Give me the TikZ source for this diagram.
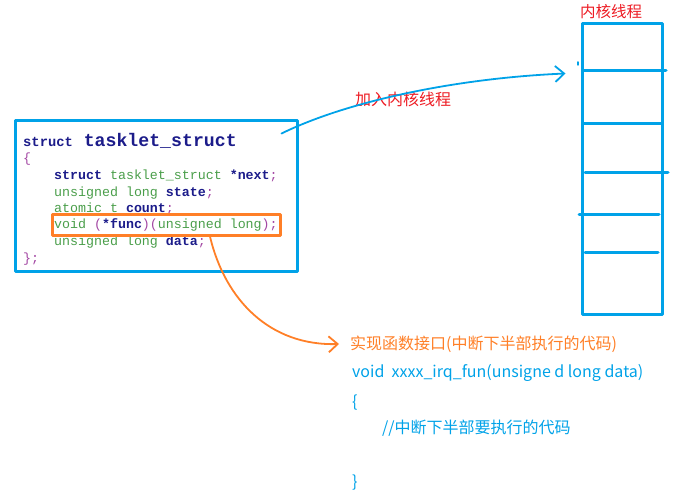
\documentclass[tikz,border=0pt]{standalone}
\usepackage{fontspec}
\usepackage{xcolor}
\usepackage{tikz}
\usetikzlibrary{arrows.meta}
\setmonofont{Liberation Mono}
\newfontfamily\cjk{Noto Sans CJK SC}
\definecolor{paintblue}{HTML}{00A2E8}
\definecolor{paintred}{HTML}{ED1C24}
\definecolor{paintorange}{HTML}{FF7F27}
\definecolor{kwcol}{HTML}{1C1C8A}
\definecolor{tycol}{HTML}{4A9E4A}
\definecolor{pucol}{HTML}{A347A3}
\newcommand\codefont{\ttfamily\fontsize{13.3}{16}\selectfont}
\newcommand\kwd[1]{\textcolor{kwcol}{\textbf{#1}}}
\newcommand\typ[1]{\textcolor{tycol}{#1}}
\newcommand\pun[1]{\textcolor{pucol}{#1}}
\tikzset{
  code/.style={anchor=base west,inner sep=0pt,font=\codefont},
  cjktext/.style={anchor=west,inner sep=0pt,font=\cjk\fontsize{16}{19}\selectfont},
  frame/.style={draw,inner sep=0pt,line width=3pt},
  curvy/.style={line width=1.8pt,-{Straight Barb[length=9pt,width=16pt,line width=1.8pt]}}
}

\begin{document}
\begin{tikzpicture}[line cap=round,line join=round,x=1pt,y=-1pt]
		\useasboundingbox (0,0) rectangle (699,495);
		% struct box
		\node [frame,color=paintblue,minimum width=282pt,minimum height=151pt] (taskbox) at (156,195.5) {};
		\node [code] (hdr) at (23,146) {\kwd{\fontsize{13.8}{16}\selectfont struct\fontsize{18.2}{20}\selectfont\ tasklet\_struct}};
		\node [code] (lbrace) at (23,162) {\pun{\{}};
		\node [code] (lnext) at (54,179) {\kwd{struct} \typ{tasklet\_struct} \kwd{*next}\pun{;}};
		\node [code] (lstate) at (54,196) {\typ{unsigned long} \kwd{state}\pun{;}};
		\node [code] (lcount) at (54,212) {\typ{atomic t} \kwd{count}\pun{;}};
		\node [code] (lfunc) at (54,228) {\typ{void} \pun{(}\kwd{*func}\pun{)(}\typ{unsigned long}\pun{);}};
		\node [code] (ldata) at (54,245) {\typ{unsigned long} \kwd{data}\pun{;}};
		\node [code] (rbrace) at (23,262) {\pun{\};}};
		\node [draw=paintorange,inner sep=0pt,line width=3pt,minimum width=228pt,minimum height=21pt] (funcbox) at (166,224.5) {};
		% kernel thread
		\node [frame,color=paintblue,minimum width=80pt,minimum height=290pt] (stack) at (622,169) {};
		\draw [paintblue,line width=3pt] (583,71)-- (666,71);
		\draw [paintblue,line width=3pt] (583,123)-- (662,123);
		\draw [paintblue,line width=3pt] (585,172)-- (668,172);
		\draw [paintblue,line width=3pt] (579,214)-- (659,214);
		\draw [paintblue,line width=3pt] (585,252)-- (658,252);
		\draw [paintblue,line width=1.5pt] (578,62)-- (578,65);
		\node [cjktext,text=paintred,font=\cjk\fontsize{15.5}{18}\selectfont] (threadlabel) at (580,12) {内核线程};
		% arrows
		\node [cjktext,text=paintred] (addlabel) at (355,99) {加入内核线程};
		\coordinate (addend) at ([xshift=-15pt,yshift=-51pt]stack.north west);
		\draw [curvy,paintblue] ([xshift=-17pt,yshift=-15pt]taskbox.north east) .. controls (350,100) and (460,78) .. (addend);
		\node [cjktext,text=paintorange] (impllabel) at (350,344) {实现函数接口(中断下半部执行的代码)};
		\draw [curvy,paintorange] ([xshift=44pt]funcbox.south) .. controls (225,300) and (270,346) .. ([xshift=-11pt]impllabel.west);
		% handler code
		\node [cjktext,text=paintblue] (lvoid) at (352,373) {void\ \ xxxx\_irq\_fun(unsigne d long data)};
		\node [cjktext,text=paintblue] (hbrace) at (352,403) {\{};
		\node [cjktext,text=paintblue] (lcomment) at (382,428) {//中断下半部要执行的代码};
		\node [cjktext,text=paintblue] (hend) at (352,483) {\}};
	\end{tikzpicture}
\end{document}
